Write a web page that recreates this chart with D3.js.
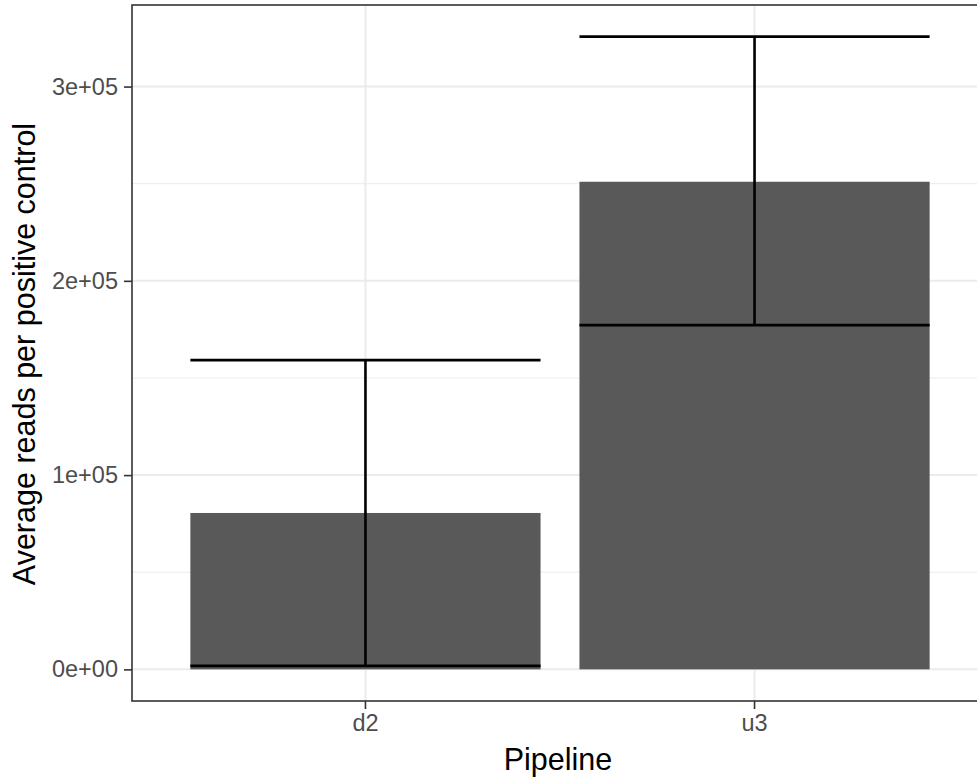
<!DOCTYPE html>
<html><head><meta charset="utf-8">
<script src="https://cdn.jsdelivr.net/npm/d3@7"></script>
<style>body{margin:0;background:#fff}svg{display:block}text{font-family:"Liberation Sans",Arial,Helvetica,sans-serif}</style>
</head><body>
<svg id="chart" width="977" height="782"></svg>
<script>
const pipelines = ["d2", "u3"];
const meanReads = [80500, 251000];
const errLow = [1800, 177200];
const errHigh = [159200, 325700];
const yTicks = [0, 100000, 200000, 300000];
const yTickLabels = ["0e+00", "1e+05", "2e+05", "3e+05"];
const yMinor = [50000, 150000, 250000];

const W = 977, H = 782;
const pLeft = 132, pTop = 5, pBottom = 701, pRight = 988;
const svg = d3.select("#chart");

const x = d3.scaleBand().domain(pipelines).range([pLeft, pRight]).paddingInner(0.1).paddingOuter(0.15);
const yMax = d3.max(errHigh), yMinV = 0;
const span = yMax - yMinV;
const y = d3.scaleLinear().domain([yMinV - 0.05 * span, yMax + 0.05 * span]).range([pBottom, pTop]);

const data = pipelines.map((p, i) => ({p, m: meanReads[i], lo: errLow[i], hi: errHigh[i]}));

svg.append("rect").attr("x", pLeft).attr("y", pTop).attr("width", pRight - pLeft).attr("height", pBottom - pTop).attr("fill", "#fff");

const grid = svg.append("g");
grid.selectAll(".minor").data(yMinor).join("line")
  .attr("x1", pLeft).attr("x2", pRight).attr("y1", d => y(d)).attr("y2", d => y(d))
  .attr("stroke", "#ebebeb").attr("stroke-width", 1);
grid.selectAll(".major").data(yTicks).join("line")
  .attr("x1", pLeft).attr("x2", pRight).attr("y1", d => y(d)).attr("y2", d => y(d))
  .attr("stroke", "#ebebeb").attr("stroke-width", 2);
grid.selectAll(".vmajor").data(pipelines).join("line")
  .attr("x1", d => x(d) + x.bandwidth() / 2).attr("x2", d => x(d) + x.bandwidth() / 2)
  .attr("y1", pTop).attr("y2", pBottom)
  .attr("stroke", "#ebebeb").attr("stroke-width", 2);

svg.append("g").selectAll("rect").data(data).join("rect")
  .attr("x", d => x(d.p)).attr("width", x.bandwidth())
  .attr("y", d => y(d.m)).attr("height", d => y(0) - y(d.m))
  .attr("fill", "#595959");

const eb = svg.append("g").attr("stroke", "#000").attr("stroke-width", 2.6).attr("fill", "none");
data.forEach(d => {
  const x0 = x(d.p), x1 = x(d.p) + x.bandwidth(), xc = x0 + x.bandwidth() / 2;
  eb.append("line").attr("x1", x0).attr("x2", x1).attr("y1", y(d.hi)).attr("y2", y(d.hi));
  eb.append("line").attr("x1", x0).attr("x2", x1).attr("y1", y(d.lo)).attr("y2", y(d.lo));
  eb.append("line").attr("x1", xc).attr("x2", xc).attr("y1", y(d.hi)).attr("y2", y(d.lo));
});

svg.append("rect").attr("x", pLeft).attr("y", pTop).attr("width", pRight - pLeft).attr("height", pBottom - pTop)
  .attr("fill", "none").attr("stroke", "#333333").attr("stroke-width", 1.6);

const yAxis = d3.axisLeft(y).tickValues(yTicks).tickFormat((d, i) => yTickLabels[i]).tickSize(8).tickPadding(6);
const gy = svg.append("g").attr("transform", `translate(${pLeft},0)`).call(yAxis);
gy.select(".domain").remove();
gy.selectAll(".tick line").attr("stroke", "#333333").attr("stroke-width", 1.6);
gy.selectAll(".tick text").attr("fill", "#4d4d4d").style("font-size", "23.5px");

const xAxis = d3.axisBottom(x).tickSize(8).tickPadding(5);
const gx = svg.append("g").attr("transform", `translate(0,${pBottom})`).call(xAxis);
gx.select(".domain").remove();
gx.selectAll(".tick line").attr("stroke", "#333333").attr("stroke-width", 1.6);
gx.selectAll(".tick text").attr("fill", "#4d4d4d").style("font-size", "23.5px");

svg.append("text").attr("x", 558).attr("y", 770).attr("text-anchor", "middle")
  .style("font-size", "30.5px").attr("fill", "#000").text("Pipeline");
svg.append("text").attr("transform", `translate(35,${354}) rotate(-90)`).attr("text-anchor", "middle")
  .style("font-size", "30.5px").attr("fill", "#000").text("Average reads per positive control");
</script>
</body></html>
